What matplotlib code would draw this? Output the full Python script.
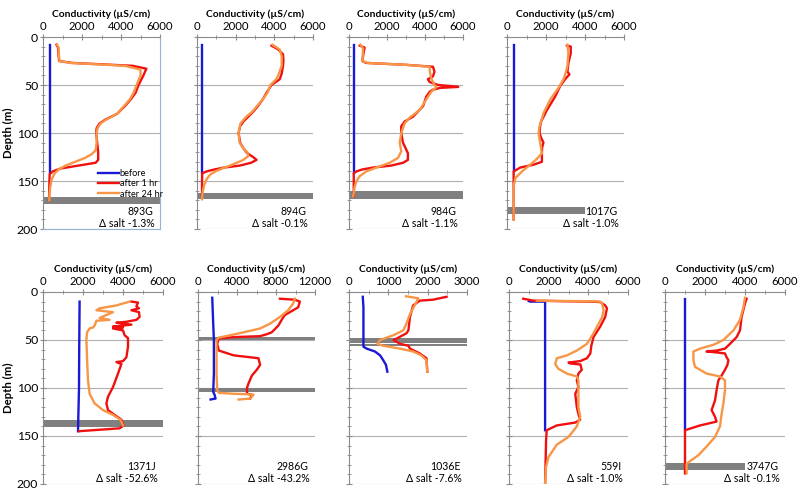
import matplotlib
matplotlib.use("Agg")
import matplotlib.pyplot as plt
from matplotlib.ticker import MultipleLocator

plt.rcParams['font.family'] = ['Lato', 'DejaVu Sans']

# ---------------- DATA ----------------
# Panel 893G
p1_before_d = [8, 142]
p1_before_c = [345, 345]
p1_h1_d = [8, 11, 20, 25, 27, 30, 33, 40, 50, 58, 65, 72, 80, 86, 90, 95, 100, 110, 120, 128, 131, 134, 137, 140, 143, 150, 160, 170]
p1_h1_c = [690, 770, 800, 830, 1500, 4600, 5300, 5150, 4900, 4750, 4500, 4200, 3800, 3200, 2900, 2750, 2730, 2780, 2830, 2830, 2700, 1800, 900, 500, 340, 330, 320, 310]
p1_h24_d = [8, 11, 20, 25, 27, 30, 34, 40, 50, 58, 65, 72, 80, 86, 90, 95, 100, 110, 118, 122, 126, 130, 134, 138, 142, 148, 155, 162, 170]
p1_h24_c = [720, 800, 820, 850, 1400, 4200, 5000, 5000, 4800, 4650, 4450, 4150, 3800, 3250, 2950, 2800, 2750, 2750, 2700, 2500, 2150, 1650, 1150, 800, 600, 450, 380, 340, 320]

# Panel 894G
p2_before_d = [8, 142]
p2_before_c = [260, 260]
p2_h1_d = [9, 13, 18, 25, 30, 38, 44, 50, 58, 65, 72, 78, 83, 88, 93, 100, 110, 116, 121, 125, 128, 131, 134, 136, 138, 140, 142, 150, 160, 166]
p2_h1_c = [3850, 4200, 4450, 4470, 4450, 4380, 4280, 3850, 3600, 3400, 3150, 2900, 2650, 2400, 2230, 2150, 2230, 2400, 2600, 2900, 3080, 2800, 2200, 1400, 900, 500, 270, 260, 260, 260]
p2_h24_d = [8, 13, 20, 30, 40, 44, 50, 58, 65, 72, 78, 83, 90, 100, 110, 116, 120, 124, 128, 131, 134, 137, 140, 143, 148, 155, 162, 169]
p2_h24_c = [3900, 4280, 4380, 4380, 4200, 4100, 3800, 3650, 3400, 3100, 2850, 2550, 2250, 2150, 2200, 2400, 2600, 2650, 2400, 2050, 1700, 1300, 950, 700, 500, 360, 290, 260]

# Panel 984G
p3_before_d = [8, 142]
p3_before_c = [250, 250]
p3_h1_d = [9, 11, 15, 20, 25, 27, 29, 31, 36, 41, 44, 47, 50, 51, 52, 53, 55, 57, 62, 72, 83, 88, 93, 100, 110, 121, 128, 131, 134, 136, 138, 140, 142, 150, 166]
p3_h1_c = [560, 820, 780, 740, 700, 900, 3000, 4420, 4500, 4420, 4150, 4250, 4700, 5300, 5750, 4800, 4400, 4250, 4070, 3900, 3370, 2930, 2750, 2750, 2840, 3100, 3100, 2850, 2200, 1260, 700, 390, 250, 250, 250]
p3_h24_d = [8, 12, 20, 25, 27, 29, 31, 36, 43, 50, 52, 55, 57, 65, 76, 84, 90, 100, 110, 119, 126, 131, 136, 140, 145, 150, 156, 166]
p3_h24_c = [600, 740, 720, 700, 1000, 3000, 4250, 4250, 4330, 4500, 4600, 4450, 4330, 4070, 3720, 3190, 2930, 2750, 2670, 2750, 2580, 2140, 1440, 910, 560, 400, 300, 220]

# Panel 1017G
p4_before_d = [8, 140]
p4_before_c = [340, 340]
p4_h1_d = [9, 10, 17, 27, 36, 39, 44, 51, 62, 76, 88, 93, 100, 105, 110, 115, 121, 126, 130, 133, 136, 140, 150, 170, 190]
p4_h1_c = [3070, 3270, 3270, 3150, 3100, 3200, 2980, 2730, 2470, 2050, 1750, 1700, 1670, 1750, 1870, 1800, 1790, 1790, 1790, 1360, 680, 340, 340, 340, 340]
p4_h24_d = [8, 17, 30, 36, 44, 53, 65, 79, 93, 100, 110, 121, 127, 133, 140, 147, 156, 170, 190]
p4_h24_c = [3100, 3150, 3100, 3030, 2900, 2640, 2220, 1880, 1670, 1620, 1700, 1790, 1530, 1190, 770, 430, 340, 340, 340]

# Panel 1371J
p5_before_d = [10, 60, 100, 145]
p5_before_c = [1830, 1810, 1800, 1750]
p5_h1_d = [10, 11, 15, 17, 19, 21, 26, 29, 31, 32, 34, 36, 37, 38, 40, 45, 48, 57, 68, 72, 73, 75, 85, 99, 109, 116, 123, 128, 133, 139, 142, 145]
p5_h1_c = [4420, 4750, 4670, 4800, 4420, 4800, 4830, 4670, 4170, 3670, 4420, 3500, 4000, 3500, 4000, 4080, 4250, 4250, 4170, 4000, 3670, 3920, 3750, 3500, 3250, 3170, 3250, 3580, 3920, 4030, 3830, 1800]
p5_h24_d = [10, 14, 17, 19, 21, 24, 27, 29, 30, 35, 37, 38, 42, 50, 68, 92, 106, 116, 123, 128, 133, 139]
p5_h24_c = [4330, 3670, 2830, 2670, 3500, 3170, 2830, 3330, 2670, 2580, 2500, 2330, 2200, 2170, 2200, 2250, 2330, 2580, 3000, 3500, 3870, 4000]

# Panel 2986G
p6_before_d = [6, 33, 50, 85, 104, 107, 111, 112]
p6_before_c = [1460, 1560, 1630, 1630, 1560, 1700, 1800, 1290]
p6_h1_d = [7, 8, 10, 16, 21, 24, 29, 35, 42, 44, 46, 47, 48.5, 54, 61, 66, 68, 69, 76, 81, 87, 95, 100, 106, 107, 111]
p6_h1_c = [8400, 9900, 10450, 10270, 9420, 8900, 8580, 8240, 7560, 7050, 6370, 3660, 2140, 1970, 2140, 3660, 5360, 6200, 6370, 6030, 5530, 5190, 5020, 5020, 5530, 5360]
p6_h24_d = [7, 12, 19, 26, 33, 38, 42, 45, 47.5, 50, 68, 85, 102, 105, 106, 106.5, 107, 111, 112]
p6_h24_c = [9930, 9760, 9250, 8400, 7390, 6370, 4680, 3320, 2140, 1900, 1900, 1900, 1970, 2140, 3660, 5020, 5700, 5360, 4170]

# Panel 1036E
p7_before_d = [5, 16, 33, 57, 59, 62, 66, 71, 76, 83]
p7_before_c = [350, 367, 367, 367, 450, 660, 790, 870, 940, 975]
p7_h1_d = [5, 8, 9, 14, 26, 40, 43, 48.5, 50, 54, 56, 59, 64, 69, 83]
p7_h1_c = [2480, 2140, 1800, 1630, 1550, 1510, 1460, 1210, 1130, 1300, 1510, 1550, 1800, 1970, 1990]
p7_h24_d = [4.5, 6.5, 10, 23, 33, 40, 45, 50, 54, 56, 59, 62, 66, 71, 83]
p7_h24_c = [1450, 1760, 1720, 1550, 1460, 1380, 1130, 790, 720, 870, 1300, 1630, 1840, 1970, 1990]

# Panel 559I
p8_before_d = [9.5, 10, 10, 144]
p8_before_c = [1000, 1060, 1820, 1820]
p8_h1_d = [7, 9, 9.5, 10, 10.5, 14, 17, 26, 36, 47, 56, 64, 69, 72, 73.5, 74.5, 75.5, 81, 85, 92, 99, 106, 120, 127, 133, 136, 139, 144, 154, 200]
p8_h1_c = [720, 1230, 2500, 4100, 4600, 4850, 4940, 4850, 4600, 4260, 4150, 4100, 3930, 3590, 3000, 3100, 3600, 3670, 3500, 3420, 3500, 3340, 3420, 3500, 3590, 3340, 2410, 1900, 1870, 1820]
p8_h24_d = [9, 9.3, 9.6, 10, 12, 19, 26, 33, 43, 54, 61, 66, 69, 75, 80, 85, 88, 92, 102, 120, 130, 140, 151, 159, 172, 182, 200]
p8_h24_c = [1400, 2410, 4100, 4600, 4690, 4770, 4700, 4520, 4260, 3930, 3420, 2920, 2410, 2330, 2490, 2920, 3420, 3500, 3500, 3500, 3590, 3420, 3000, 2410, 1990, 1870, 1820]

# Panel 3747G
p9_before_d = [7, 144]
p9_before_c = [1000, 1000]
p9_h1_d = [7, 12, 26, 40, 47, 54, 59, 61, 62, 63, 64, 68, 71, 76, 81, 87, 92, 102, 113, 123, 130, 135, 139, 144, 189]
p9_h1_c = [4080, 4000, 3830, 3750, 3580, 3250, 3000, 2580, 2080, 2600, 3000, 3080, 3170, 3120, 3000, 2830, 2670, 2580, 2500, 2330, 2500, 2580, 1750, 1000, 1000]
p9_h24_d = [6, 16, 29, 40, 50, 55, 59, 62, 71, 78, 85, 88, 92, 102, 116, 127, 140, 151, 161, 170, 175, 179, 189]
p9_h24_c = [4000, 3920, 3750, 3420, 2920, 2420, 1750, 1420, 1420, 1500, 2080, 2750, 3000, 3000, 2920, 2830, 2750, 2500, 2080, 1670, 1330, 1080, 1080]

# Grey bars (top depth, bottom depth, extent in uS/cm)
bars_893G = [(167, 174, 6000)]
bars_894G = [(162.5, 169, 6000)]
bars_984G = [(160, 169, 6000)]
bars_1017G = [(177, 184, 4000)]
bars_1371J = [(133, 140.5, 6000)]
bars_2986G = [(47, 50.5, 12000), (100, 104, 12000)]
bars_1036E = [(48, 50.6, 3000), (51.1, 53.4, 3000), (53.9, 56, 3000)]
bars_559I = []
bars_3747G = [(178, 185, 4000)]

well_ids = ['893G', '894G', '984G', '1017G', '1371J', '2986G', '1036E', '559I', '3747G']
salt_change = ['-1.3%', '-0.1%', '-1.1%', '-1.0%', '-52.6%', '-43.2%', '-7.6%', '-1.0%', '-0.1%']
x_max = [6000, 6000, 6000, 6000, 6000, 12000, 3000, 6000, 6000]
x_major = [2000, 2000, 2000, 2000, 2000, 4000, 1000, 2000, 2000]
series_labels = ['before', 'after 1 hr', 'after 24 hr']

# ---------------- LAYOUT ----------------
W, H = 800, 492
fig = plt.figure(figsize=(W / 100, H / 100), dpi=100)

boxes = [(43, 160, 37, 229), (197, 313, 37, 229), (349, 463, 37, 229), (507, 624, 37, 229),
         (43, 163, 292, 484), (198, 315, 292, 484), (349, 467, 292, 484), (509, 628, 292, 484),
         (665, 785, 292, 484)]

data = [
    (p1_before_c, p1_before_d, p1_h1_c, p1_h1_d, p1_h24_c, p1_h24_d, bars_893G),
    (p2_before_c, p2_before_d, p2_h1_c, p2_h1_d, p2_h24_c, p2_h24_d, bars_894G),
    (p3_before_c, p3_before_d, p3_h1_c, p3_h1_d, p3_h24_c, p3_h24_d, bars_984G),
    (p4_before_c, p4_before_d, p4_h1_c, p4_h1_d, p4_h24_c, p4_h24_d, bars_1017G),
    (p5_before_c, p5_before_d, p5_h1_c, p5_h1_d, p5_h24_c, p5_h24_d, bars_1371J),
    (p6_before_c, p6_before_d, p6_h1_c, p6_h1_d, p6_h24_c, p6_h24_d, bars_2986G),
    (p7_before_c, p7_before_d, p7_h1_c, p7_h1_d, p7_h24_c, p7_h24_d, bars_1036E),
    (p8_before_c, p8_before_d, p8_h1_c, p8_h1_d, p8_h24_c, p8_h24_d, bars_559I),
    (p9_before_c, p9_before_d, p9_h1_c, p9_h1_d, p9_h24_c, p9_h24_d, bars_3747G),
]

BLUE = '#1a1ad6'
RED = '#f01010'
ORANGE = '#f79646'
GREY_BAR = '#808080'
AXIS_COL = '#8c8c8c'
GRID_COL = '#b0b0b0'

for i, (box, d) in enumerate(zip(boxes, data)):
    x0, x1, y0, y1 = box
    ax = fig.add_axes([x0 / W, 1 - y1 / H, (x1 - x0) / W, (y1 - y0) / H])
    bc, bd, c1, d1, c24, d24, bars = d
    ax.set_xlim(0, x_max[i])
    ax.set_ylim(200, 0)

    for gy in (50, 100, 150, 200):
        ax.axhline(gy, color=GRID_COL, lw=0.8, zorder=0)
    for (bt, bb, ext) in bars:
        ax.barh((bt + bb) / 2, ext, height=bb - bt, left=0, color=GREY_BAR, zorder=1, linewidth=0)

    ax.plot(bc, bd, color=BLUE, lw=1.7, zorder=3, label=series_labels[0])
    ax.plot(c1, d1, color=RED, lw=1.7, zorder=4, label=series_labels[1])
    ax.plot(c24, d24, color=ORANGE, lw=1.7, zorder=5, label=series_labels[2])

    ax.xaxis.tick_top()
    ax.xaxis.set_label_position('top')
    ax.xaxis.set_major_locator(MultipleLocator(x_major[i]))
    ax.xaxis.set_minor_locator(MultipleLocator(x_major[i] / 2))
    ax.yaxis.set_major_locator(MultipleLocator(50))
    ax.yaxis.set_minor_locator(MultipleLocator(10))
    ax.tick_params(axis='x', which='major', labelsize=8.2, pad=1.5, length=4, direction='inout', color=AXIS_COL)
    ax.tick_params(axis='x', which='minor', length=3, direction='inout', color=AXIS_COL)
    ax.tick_params(axis='y', which='major', labelsize=8.8, pad=1.5, length=4, direction='inout', color=AXIS_COL)
    ax.tick_params(axis='y', which='minor', length=3, direction='inout', color=AXIS_COL)
    ax.set_xlabel('Conductivity (µS/cm)', fontsize=7.4, fontweight='bold', labelpad=3)

    for s in ('right', 'bottom'):
        ax.spines[s].set_visible(False)
    for s in ('top', 'left'):
        ax.spines[s].set_color(AXIS_COL)
        ax.spines[s].set_linewidth(0.8)
    ax.set_facecolor('none')

    if i in (0, 4):
        ax.set_ylabel('Depth (m)', fontsize=8.2, fontweight='bold', labelpad=2)
    else:
        ax.tick_params(axis='y', labelleft=False)

    if i == 0:
        for s in ('right', 'bottom'):
            ax.spines[s].set_visible(True)
            ax.spines[s].set_color('#95b3d7')
            ax.spines[s].set_linewidth(0.8)
        leg = ax.legend(loc='lower right', bbox_to_anchor=(1.07, 0.13), fontsize=6.6, frameon=False,
                        handlelength=2.3, handletextpad=0.05, labelspacing=0.15, borderpad=0.1)

    ax.text(0.945, 0.09, well_ids[i], transform=ax.transAxes, ha='right', va='center', fontsize=7.6)
    ax.text(0.955, 0.027, 'Δ salt ' + salt_change[i], transform=ax.transAxes, ha='right', va='center', fontsize=7.6)

fig.savefig('out.png', dpi=100)
